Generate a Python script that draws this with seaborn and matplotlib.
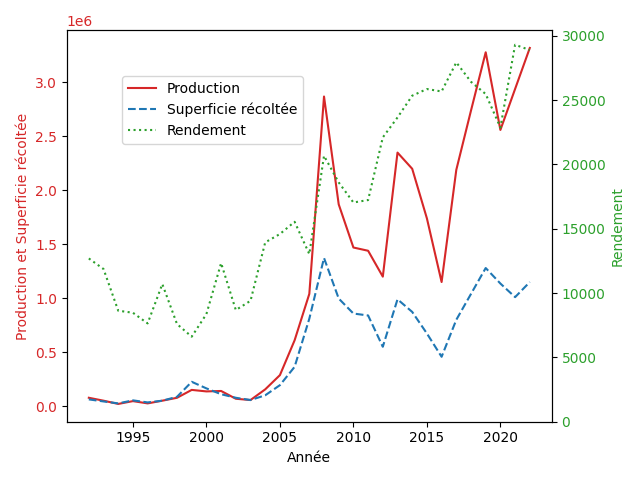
import numpy as np
import pandas as pd
import seaborn as sns
import matplotlib
matplotlib.use("Agg")
import matplotlib.pyplot as plt

annees = list(range(1992, 2023))
production = [0.077e6, 0.05e6, 0.02e6, 0.046e6, 0.025e6, 0.05e6, 0.077e6, 0.15e6, 0.136e6, 0.14e6,
              0.068e6, 0.056e6, 0.155e6, 0.287e6, 0.61e6, 1.04e6, 2.87e6, 1.87e6, 1.47e6, 1.44e6,
              1.20e6, 2.35e6, 2.20e6, 1.74e6, 1.15e6, 2.19e6, 2.74e6, 3.28e6, 2.56e6, 2.94e6, 3.32e6]
superficie = [0.062e6, 0.043e6, 0.025e6, 0.053e6, 0.034e6, 0.05e6, 0.086e6, 0.225e6, 0.164e6, 0.11e6,
              0.077e6, 0.056e6, 0.10e6, 0.194e6, 0.364e6, 0.81e6, 1.373e6, 0.997e6, 0.858e6, 0.84e6,
              0.55e6, 0.99e6, 0.873e6, 0.673e6, 0.457e6, 0.80e6, 1.04e6, 1.28e6, 1.136e6, 1.01e6, 1.15e6]
rendement = [12690, 11870, 8630, 8470, 7640, 10700, 7590, 6610, 8370, 12330,
             8680, 9400, 13940, 14590, 15540, 13030, 20670, 18600, 17040, 17230,
             22100, 23650, 25340, 25860, 25670, 27930, 26420, 25470, 22870, 29300, 28890]

df = pd.DataFrame({"Année": annees, "Production": production,
                   "Superficie": superficie, "Rendement": rendement})

fig, ax1 = plt.subplots(figsize=(6.4, 4.8))

sns.lineplot(data=df, x="Année", y="Production", ax=ax1, color="tab:red",
             label="Production")
sns.lineplot(data=df, x="Année", y="Superficie", ax=ax1, color="tab:blue",
             linestyle="--", label="Superficie récoltée")
ax1.set_xlabel("Année")
ax1.set_ylabel("Production et Superficie récoltée", color="tab:red")
ax1.tick_params(axis="y", labelcolor="tab:red")
ax1.yaxis.get_offset_text().set_color("tab:red")

ax2 = ax1.twinx()
sns.lineplot(data=df, x="Année", y="Rendement", ax=ax2, color="tab:green",
             linestyle=":", label="Rendement")
ax2.set_ylabel("Rendement", color="tab:green")
ax2.tick_params(axis="y", labelcolor="tab:green")
ax2.set_ylim(bottom=0)

h1, l1 = ax1.get_legend_handles_labels()
h2, l2 = ax2.get_legend_handles_labels()
ax1.get_legend().remove()
ax2.get_legend().remove()
fig.legend(h1 + h2, l1 + l2, loc="upper left", bbox_to_anchor=(0.1, 0.9),
           bbox_transform=ax1.transAxes)

fig.tight_layout()
fig.savefig("out.png", dpi=100)
